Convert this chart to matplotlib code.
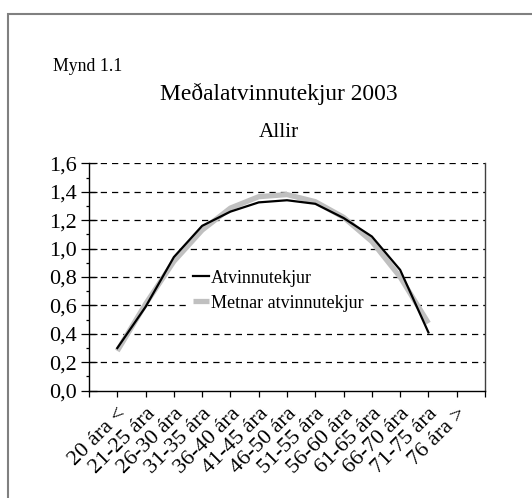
import matplotlib
matplotlib.use("Agg")
import matplotlib.pyplot as plt
from matplotlib.ticker import MultipleLocator, FixedLocator, FuncFormatter
from matplotlib.patches import Rectangle

categories = ["20 ára <", "21-25 ára", "26-30 ára", "31-35 ára", "36-40 ára",
              "41-45 ára", "46-50 ára", "51-55 ára", "56-60 ára", "61-65 ára",
              "66-70 ára", "71-75 ára", "76 ára >"]
atvinnutekjur = [0.30, 0.59, 0.94, 1.16, 1.26, 1.325, 1.34, 1.315, 1.215, 1.085, 0.85, 0.41]
metnar = [0.28, 0.61, 0.91, 1.13, 1.285, 1.365, 1.38, 1.33, 1.22, 1.05, 0.80, 0.475]
yticks = [0.0, 0.2, 0.4, 0.6, 0.8, 1.0, 1.2, 1.4, 1.6]

plt.rcParams['font.family'] = ['Liberation Serif', 'DejaVu Serif']

fig = plt.figure(figsize=(5.32, 4.98), dpi=100)
fig.patches.append(Rectangle((8/532, -0.1), 1.2, 1 - 14/498 + 0.1, transform=fig.transFigure,
                             fill=False, edgecolor='#808080', linewidth=1.5, zorder=0))

ax = fig.add_axes([89/532, 1 - 390.7/498, (485 - 89)/532, (390.7 - 163.3)/498])

xs = list(range(len(categories)))
ax.plot(xs[:len(metnar)], metnar, color='#c0c0c0', linewidth=3.8, label='Metnar atvinnutekjur',
        solid_capstyle='butt', zorder=3)
ax.plot(xs[:len(atvinnutekjur)], atvinnutekjur, color='black', linewidth=1.6, label='Atvinnutekjur',
        zorder=4)

ax.set_xlim(-1, len(categories))
ax.set_ylim(0, 1.6)
ax.set_yticks(yticks)
ax.yaxis.set_minor_locator(MultipleLocator(0.1))
ax.yaxis.set_major_formatter(FuncFormatter(lambda v, p: f"{v:.1f}".replace('.', ',')))
for y in yticks[1:]:
    ax.axhline(y, color='black', linestyle=(0, (5, 4)), linewidth=0.9, zorder=1)

ax.xaxis.remove_overlapping_locs = False
ax.xaxis.set_major_locator(FixedLocator([i - 1 for i in range(len(categories) + 2)]))
ax.set_xticks(xs, categories, minor=True)
ax.tick_params(axis='x', which='major', direction='out', length=4, labelbottom=False, width=0.9)
ax.tick_params(axis='x', which='minor', length=0, labelsize=16, pad=10)
for lab in ax.get_xticklabels(minor=True):
    lab.set_rotation(45)
    lab.set_ha('right')
    lab.set_va('top')
    lab.set_rotation_mode('anchor')
ax.tick_params(axis='y', which='major', direction='inout', length=12, labelsize=16, width=0.9, pad=3)
ax.tick_params(axis='y', which='minor', direction='out', length=2.5, width=0.9)

ax.spines['top'].set_visible(False)
for s in ['left', 'bottom', 'right']:
    ax.spines[s].set_linewidth(1.0)
    ax.spines[s].set_color('black')
ax.spines['right'].set_color('#404040')

h, l = ax.get_legend_handles_labels()
leg = ax.legend(h[::-1], l[::-1], loc='upper left', bbox_to_anchor=((189 - 89) / 396, (390.7 - 266) / 227.4),
                frameon=True, fontsize=13, handlelength=0.9, handletextpad=0.1, labelspacing=0.45,
                borderpad=0.2, borderaxespad=0)
leg.get_frame().set_edgecolor('none')
leg.get_frame().set_facecolor('white')
leg.get_frame().set_alpha(1)
leg.set_zorder(2)

fig.text(53/532, 1 - 70.7/498, "Mynd 1.1", fontsize=12.8, ha='left', va='baseline')
fig.text(279/532, 1 - 100/498, "Meðalatvinnutekjur 2003", fontsize=16.9, ha='center', va='baseline')
fig.text(279/532, 1 - 136.7/498, "Allir", fontsize=15.2, ha='center', va='baseline')

fig.savefig("out.png", dpi=100)
